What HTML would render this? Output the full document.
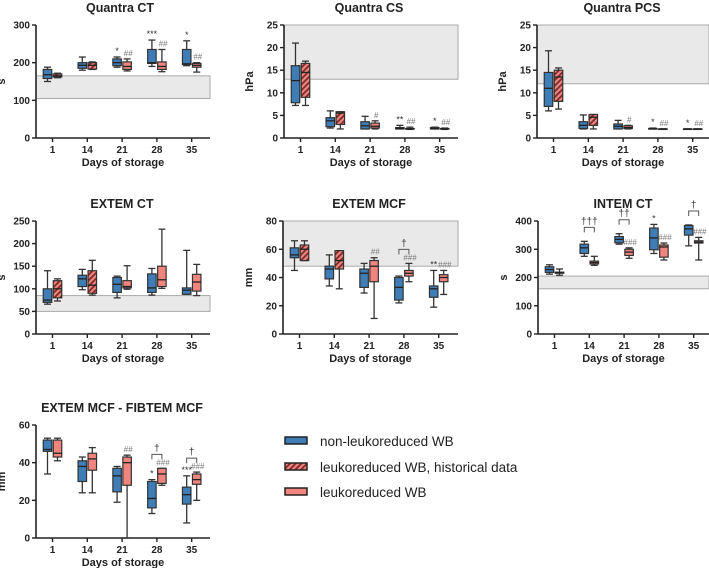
<!DOCTYPE html>
<html><head><meta charset="utf-8"><style>
body{margin:0;background:#fff;}
svg{display:block;font-family:"Liberation Sans",Arial,sans-serif;}
</style></head><body>
<svg id="chart" width="709" height="568" viewBox="0 0 709 568" xmlns="http://www.w3.org/2000/svg">
<defs>
<pattern id="hatch" patternUnits="userSpaceOnUse" width="4" height="4" patternTransform="rotate(45)">
<rect width="4" height="4" fill="#f0857f"/><rect width="1.8" height="4" fill="#7a2a2a"/>
</pattern>
</defs>
<g id="legend">
<g><rect x="285" y="437" width="22" height="7" fill="#3f7db6" stroke="#222" stroke-width="1.5"/><text x="320" y="446" font-size="13.5" fill="#222">non-leukoreduced WB</text></g>
<g><rect x="285" y="463" width="22" height="7" fill="url(#hatch)" stroke="#222" stroke-width="1.5"/><text x="320" y="472" font-size="13.5" fill="#222">leukoreduced WB, historical data</text></g>
<g><rect x="285" y="488" width="22" height="7" fill="#f0857f" stroke="#222" stroke-width="1.5"/><text x="320" y="497" font-size="13.5" fill="#222">leukoreduced WB</text></g>
</g>
</svg>
<script>
const days = ['1','14','21','28','35'];

const qctTicks = [0,100,200,300];
const qctBand = [105,165];
const qctBlue = [[150,158,168,182,188],[180,185,193,200,215],[188,192,200,210,215],[190,198,200,235,260],[192,195,197,235,258]];
const qctRed = [[160,162,165,170,172],[182,183,193,200,202],[178,182,190,202,210],[176,182,190,202,235],[175,188,193,198,200]];
const qctBlueAnn = ['','','*','***','*'];
const qctRedAnn = ['','','##','##','##'];
const qctBracket = ['','','','',''];

const qcsTicks = [0,5,10,15,20,25];
const qcsBand = [13,25];
const qcsBlue = [[7.2,7.8,12.7,16,21],[2.2,2.5,3.8,4.5,6],[2,2,2.7,3.6,4.8],[2,2,2.1,2.3,2.8],[2,2,2.1,2.3,2.4]];
const qcsRed = [[7.2,9,14.5,16.5,17],[2,3,5.5,5.8,5.8],[2,2.2,2.6,3.3,3.8],[1.9,2,2,2.1,2.4],[1.9,2,2,2.1,2.2]];
const qcsBlueAnn = ['','','','**','*'];
const qcsRedAnn = ['','','#','##','##'];
const qcsBracket = ['','','','',''];

const pcsTicks = [0,5,10,15,20,25];
const pcsBand = [12,25];
const pcsBlue = [[6,7,11,14.5,19.3],[2,2.1,2.8,3.6,5.1],[2,2,2.6,3.1,3.9],[2,2,2,2.1,2.2],[2,2,2,2,2]];
const pcsRed = [[6.4,8.1,13.5,15,15.5],[2,2.8,4.6,5.2,5.2],[2,2.1,2.3,2.7,2.8],[2,2,2,2,2],[2,2,2,2,2]];
const pcsBlueAnn = ['','','','*','*'];
const pcsRedAnn = ['','','#','##','##'];
const pcsBracket = ['','','','',''];

const ectTicks = [0,50,100,150,200,250];
const ectBand = [50,85];
const ectBlue = [[66,70,75,100,140],[98,105,122,130,143],[80,92,110,125,128],[86,92,102,133,145],[88,88,97,102,185]];
const ectRed = [[73,80,100,118,122],[86,90,108,140,163],[99,102,105,118,151],[101,105,120,150,232],[85,95,115,132,154]];
const ectBlueAnn = ['','','','',''];
const ectRedAnn = ['','','','',''];
const ectBracket = ['','','','',''];

const emcfTicks = [0,20,40,60,80];
const emcfBand = [48,80];
const emcfBlue = [[45,54,56,61,66],[34,39,46,48,56],[29,33,43,46,50],[22,24,33,40,41],[19,26,32,34,45]];
const emcfRed = [[52,52,60,63,66],[32,46,52,59,59],[11,37,48,52,54],[37,41,43,45,50],[28,37,40,42,45]];
const emcfBlueAnn = ['','','','','**'];
const emcfRedAnn = ['','','##','###','###'];
const emcfBracket = ['','','','†',''];

const ictTicks = [0,100,200,300,400];
const ictBand = [160,205];
const ictBlue = [[212,218,228,238,245],[275,285,305,318,328],[318,323,335,345,355],[285,298,340,375,388],[312,350,372,384,386]];
const ictRed = [[208,215,217,219,230],[243,248,253,258,275],[268,278,290,300,305],[262,272,308,315,322],[262,322,325,330,342]];
const ictBlueAnn = ['','','','*',''];
const ictRedAnn = ['','','###','###','###'];
const ictBracket = ['','†††','††','','†'];

const dmTicks = [0,20,40,60];
const dmBlue = [[34,46,47,52,53],[24,30,38,41,43],[19,24.5,33,37,38],[13,16,21,30,31],[8,18,23,27,33]];
const dmRed = [[41,43,45,52,53],[24,36,42,45,48],[0,28,40,43,44],[28,29,34,37,37],[20,28.5,31,34,35]];
const dmBlueAnn = ['','','','*','***'];
const dmRedAnn = ['','','##','###','###'];
const dmBracket = ['','','','†','†'];

const svg = document.getElementById('chart');
const NS = 'http://www.w3.org/2000/svg';
function mk(tag, attrs, parent, text){
  const e = document.createElementNS(NS, tag);
  for (const k in attrs) e.setAttribute(k, attrs[k]);
  if (text !== undefined) e.textContent = text;
  parent.appendChild(e);
  return e;
}

function panel(cfg){
  const g = mk('g', {}, svg);
  
  
  const ymax = cfg.ticks[cfg.ticks.length-1];
  const y = v => cfg.yb - (v/ymax)*(cfg.yb-cfg.yt);
  const xc = i => cfg.x0 + 16.5 + 34.8*i;
  const t = mk('text', {x:cfg.tx, y:cfg.yt-13, 'font-size':12.5, 'font-weight':'bold', 'text-anchor':'middle', fill:'#222'}, g, cfg.title);
  
  
  if (cfg.band){
    const b = mk('rect', {x:cfg.x0, y:y(cfg.band[1]), width:cfg.x1-cfg.x0, height:y(cfg.band[0])-y(cfg.band[1]), fill:'#e9e9e9', stroke:'#aaa', 'stroke-width':1}, g);
    
    
  }
  mk('line', {x1:cfg.x0, y1:cfg.yt, x2:cfg.x0, y2:cfg.yb, stroke:'#222', 'stroke-width':1.6}, g);
  mk('line', {x1:cfg.x0, y1:cfg.yb, x2:cfg.x1, y2:cfg.yb, stroke:'#222', 'stroke-width':1.6}, g);
  cfg.ticks.forEach(v => {
    mk('line', {x1:cfg.x0-4, y1:y(v), x2:cfg.x0, y2:y(v), stroke:'#222', 'stroke-width':1.4}, g);
    const l = mk('text', {x:cfg.x0-6, y:y(v)+3.5, 'font-size':10, 'font-weight':'bold', 'text-anchor':'end', fill:'#222'}, g, String(v));
    
    
  });
  const yt = mk('text', {x:0, y:0, 'font-size':11, 'font-weight':'bold', 'text-anchor':'middle', fill:'#222', transform:`translate(${cfg.x0-31},${(cfg.yt+cfg.yb)/2}) rotate(-90)`}, g, cfg.ylabel);
  
  
  days.forEach((d,i) => {
    mk('line', {x1:xc(i), y1:cfg.yb, x2:xc(i), y2:cfg.yb+4, stroke:'#222', 'stroke-width':1.4}, g);
    const l = mk('text', {x:xc(i), y:cfg.yb+15, 'font-size':10, 'font-weight':'bold', 'text-anchor':'middle', fill:'#222'}, g, d);
    
    
  });
  const xt = mk('text', {x:(cfg.x0+cfg.x1)/2, y:cfg.yb+28, 'font-size':11, 'font-weight':'bold', 'text-anchor':'middle', fill:'#222'}, g, 'Days of storage');
  
  

  function box(vals, cx, fill, nm){
    const bg = mk('g', {}, g);
    
    
    const w = 8.5;
    mk('line', {x1:cx, y1:y(vals[0]), x2:cx, y2:y(vals[4]), stroke:'#333', 'stroke-width':1.3}, bg);
    mk('line', {x1:cx-3.5, y1:y(vals[0]), x2:cx+3.5, y2:y(vals[0]), stroke:'#333', 'stroke-width':1.3}, bg);
    mk('line', {x1:cx-3.5, y1:y(vals[4]), x2:cx+3.5, y2:y(vals[4]), stroke:'#333', 'stroke-width':1.3}, bg);
    mk('rect', {x:cx-w/2, y:y(vals[3]), width:w, height:Math.max(0.5, y(vals[1])-y(vals[3])), fill:fill, stroke:'#333', 'stroke-width':1.2}, bg);
    mk('line', {x1:cx-w/2, y1:y(vals[2]), x2:cx+w/2, y2:y(vals[2]), stroke:'#222', 'stroke-width':1.3}, bg);
  }
  days.forEach((d,i) => {
    const bx = xc(i)-5, rx = xc(i)+5;
    box(cfg.blue[i], bx, '#3f7db6', 'box-blue-day'+d);
    const hatched = cfg.hatch && i < 2;
    box(cfg.red[i], rx, hatched ? 'url(#hatch)' : '#f0857f', 'box-red-day'+d);
    if (cfg.bAnn[i]){
      const a = mk('text', {x:bx, y:y(cfg.blue[i][4])-3, 'font-size':9, 'text-anchor':'middle', fill:'#333'}, g, cfg.bAnn[i]);
      
      
    }
    if (cfg.rAnn[i]){
      const a = mk('text', {x:rx+1, y:y(cfg.red[i][4])-3, 'font-size':8, 'font-style':'italic', 'text-anchor':'middle', fill:'#777'}, g, cfg.rAnn[i]);
      
      
    }
    if (cfg.br[i]){
      const top = y(Math.max(cfg.blue[i][4], cfg.red[i][4])) - 14;
      mk('path', {d:`M${bx},${top+5} V${top} H${rx} V${top+5}`, fill:'none', stroke:'#555', 'stroke-width':1}, g);
      const a = mk('text', {x:xc(i), y:top-3, 'font-size':10, 'text-anchor':'middle', fill:'#333'}, g, cfg.br[i]);
      
      
    }
  });
}

panel({name:'panel-quantra-ct', title:'Quantra CT', tx:120, x0:36, x1:210, yt:25, yb:138, ticks:qctTicks, band:qctBand, ylabel:'s', blue:qctBlue, red:qctRed, bAnn:qctBlueAnn, rAnn:qctRedAnn, br:qctBracket, hatch:true});
panel({name:'panel-quantra-cs', title:'Quantra CS', tx:369, x0:284, x1:458, yt:25, yb:138, ticks:qcsTicks, band:qcsBand, ylabel:'hPa', blue:qcsBlue, red:qcsRed, bAnn:qcsBlueAnn, rAnn:qcsRedAnn, br:qcsBracket, hatch:true});
panel({name:'panel-quantra-pcs', title:'Quantra PCS', tx:622, x0:537, x1:709, yt:25, yb:138, ticks:pcsTicks, band:pcsBand, ylabel:'hPa', blue:pcsBlue, red:pcsRed, bAnn:pcsBlueAnn, rAnn:pcsRedAnn, br:pcsBracket, hatch:true});
panel({name:'panel-extem-ct', title:'EXTEM CT', tx:122, x0:36, x1:210, yt:221, yb:334, ticks:ectTicks, band:ectBand, ylabel:'s', blue:ectBlue, red:ectRed, bAnn:ectBlueAnn, rAnn:ectRedAnn, br:ectBracket, hatch:true});
panel({name:'panel-extem-mcf', title:'EXTEM MCF', tx:369, x0:283, x1:458, yt:221, yb:334, ticks:emcfTicks, band:emcfBand, ylabel:'mm', blue:emcfBlue, red:emcfRed, bAnn:emcfBlueAnn, rAnn:emcfRedAnn, br:emcfBracket, hatch:true});
panel({name:'panel-intem-ct', title:'INTEM CT', tx:623, x0:538, x1:709, yt:221, yb:334, ticks:ictTicks, band:ictBand, ylabel:'s', blue:ictBlue, red:ictRed, bAnn:ictBlueAnn, rAnn:ictRedAnn, br:ictBracket, hatch:false});
panel({name:'panel-extem-fibtem-mcf', title:'EXTEM MCF - FIBTEM MCF', tx:122, x0:36, x1:210, yt:425, yb:538, ticks:dmTicks, band:null, ylabel:'mm', blue:dmBlue, red:dmRed, bAnn:dmBlueAnn, rAnn:dmRedAnn, br:dmBracket, hatch:false});
</script>
</body></html>
